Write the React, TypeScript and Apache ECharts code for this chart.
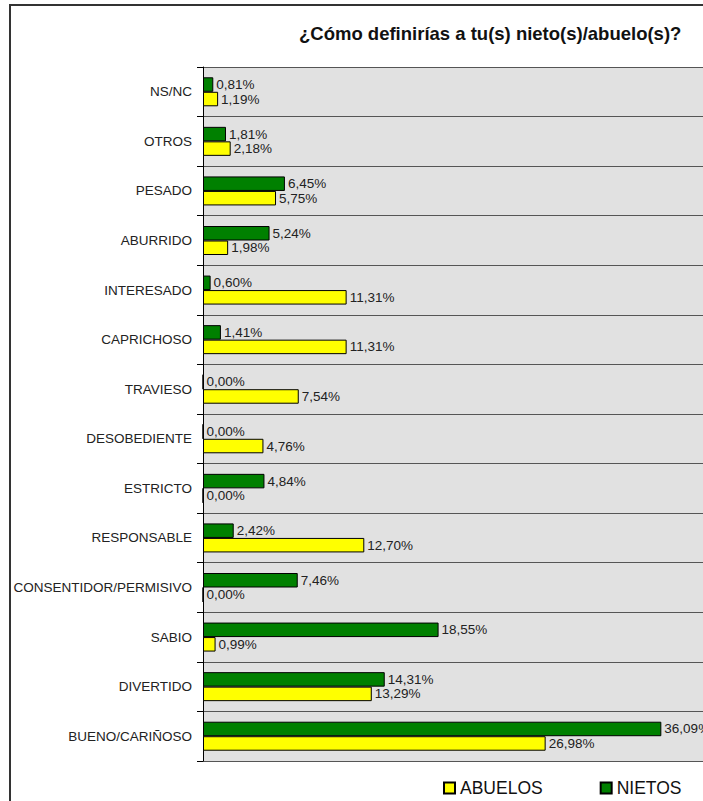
import React, { useEffect, useRef } from "react";
import * as echarts from "echarts";

const categories = [
  "BUENO/CARIÑOSO",
  "DIVERTIDO",
  "SABIO",
  "CONSENTIDOR/PERMISIVO",
  "RESPONSABLE",
  "ESTRICTO",
  "DESOBEDIENTE",
  "TRAVIESO",
  "CAPRICHOSO",
  "INTERESADO",
  "ABURRIDO",
  "PESADO",
  "OTROS",
  "NS/NC",
];
const abuelos = [26.98, 13.29, 0.99, 0.0, 12.7, 0.0, 4.76, 7.54, 11.31, 11.31, 1.98, 5.75, 2.18, 1.19];
const nietos = [36.09, 14.31, 18.55, 7.46, 2.42, 4.84, 0.0, 0.0, 1.41, 0.6, 5.24, 6.45, 1.81, 0.81];
const seriesNames = ["ABUELOS", "NIETOS"];
const titleText = "¿Cómo definirías a tu(s) nieto(s)/abuelo(s)?";

const FONT = "Arial, 'Liberation Sans', sans-serif";

export default function App() {
  const ref = useRef<HTMLDivElement>(null);
  useEffect(() => {
    if (!ref.current) return;
    const chart = echarts.init(ref.current, null, { renderer: "svg" });
    const fmt = (p: any) => Number(p.value).toFixed(2).replace(".", ",") + "%";
    const label = {
      show: true,
      position: "right",
      distance: 3,
      formatter: fmt,
      fontSize: 13.5,
      color: "#222",
      fontFamily: FONT,
    };
    chart.setOption({
      animation: false,
      backgroundColor: "#ffffff",
      textStyle: { fontFamily: FONT },
      title: {
        text: titleText,
        left: 294,
        top: 19,
        padding: 5,
        textStyle: { fontSize: 18.5, fontWeight: "bold", color: "#111", fontFamily: FONT },
      },
      graphic: [
        {
          type: "rect",
          shape: { x: 10, y: 5, width: 900, height: 900 },
          style: { fill: "none", stroke: "#333", lineWidth: 2 },
          silent: true,
        },
      ],
      legend: {
        data: seriesNames,
        left: 443,
        top: 779,
        padding: 0,
        itemWidth: 11,
        itemHeight: 11,
        itemGap: 57,
        icon: "rect",
        textStyle: { fontSize: 17.5, color: "#111", fontFamily: FONT },
      },
      grid: {
        left: 203,
        top: 67,
        width: 508,
        height: 694,
        show: true,
        backgroundColor: "#e1e1e1",
        borderWidth: 0,
      },
      xAxis: {
        type: "value",
        min: 0,
        max: 40,
        show: false,
        splitLine: { show: false },
      },
      yAxis: {
        type: "category",
        data: categories,
        axisLine: { show: true, lineStyle: { color: "#000", width: 1 } },
        axisTick: { show: true, length: 6, lineStyle: { color: "#000" } },
        axisLabel: { fontSize: 13.5, color: "#222", margin: 11, fontFamily: FONT },
        splitLine: { show: true, lineStyle: { color: "#555", width: 1 } },
      },
      series: [
        {
          name: seriesNames[1],
          type: "bar",
          data: nietos,
          barWidth: 14.5,
          barGap: "0%",
          itemStyle: { color: "#008000", borderColor: "#000", borderWidth: 1 },
          label,
        },
        {
          name: seriesNames[0],
          type: "bar",
          data: abuelos,
          barWidth: 14.5,
          barGap: "0%",
          itemStyle: { color: "#ffff00", borderColor: "#000", borderWidth: 1 },
          label,
        },
      ],
    });
    return () => chart.dispose();
  }, []);
  return (
    <div style={{ position: "fixed", left: 0, top: 0, width: 703, height: 801, overflow: "hidden", background: "#fff" }}>
      <div ref={ref} style={{ width: 760, height: 801 }} />
    </div>
  );
}
